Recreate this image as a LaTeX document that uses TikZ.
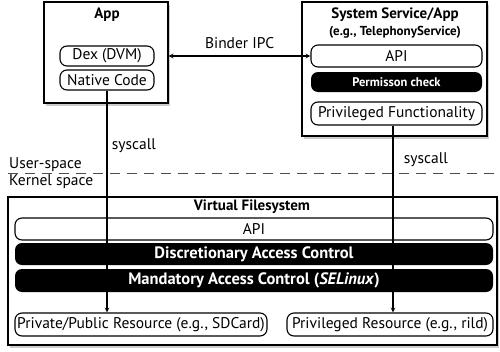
\documentclass[tikz,border=0pt]{standalone}
\usepackage{fontspec}
\setmainfont{PT Sans}
\usetikzlibrary{arrows}
\usetikzlibrary{shadows}
\usetikzlibrary{positioning}

\begin{document}
\begin{tikzpicture}[x=1pt, y=-1pt, >=stealth,
    font=\fontsize{15.5}{17}\selectfont]
    \tikzstyle{frame}=[draw, line width=1.4pt, fill=white, inner sep=0pt,
      drop shadow={opacity=0.4, shadow xshift=2pt, shadow yshift=-3pt}]
    \tikzstyle{pill}=[draw, line width=1.1pt, rounded corners=7pt, fill=white, inner sep=0pt]
    \tikzstyle{bar}=[rounded corners=7pt, fill=black, text=white, font=\fontsize{16.5}{18}\selectfont\bfseries, inner sep=0pt]
    \tikzstyle{title}=[font=\fontsize{15}{17}\selectfont\bfseries, inner sep=0pt]
    \useasboundingbox (0,0) rectangle (500,351);
    % user space
    \node[frame, minimum width=124pt, minimum height=101pt] (app) at (106,52.5) {};
    \node[title] (apptitle) at (107,15) {App};
    \node[pill, minimum width=94pt, minimum height=20pt] (dex) at (107,56) {Dex (DVM)};
    \node[pill, minimum width=94pt, minimum height=20pt] (native) at (107,80) {Native Code};
    \node[frame, minimum width=185pt, minimum height=134pt] (sys) at (394.5,69) {};
    \node[title] (systitle) at (395,15) {System Service/App};
    \node[title, font=\fontsize{13}{15}\selectfont\bfseries] (sysex) at (395,32) {(e.g., TelephonyService)};
    \node[pill, minimum width=171pt, minimum height=22pt] (api) at (396.5,56) {API};
    \node[bar, minimum width=171pt, minimum height=20pt,
      font=\fontsize{12.5}{14}\selectfont\bfseries] (perm) at (396.5,82) {Permisson check};
    \node[pill, minimum width=171pt, minimum height=23pt] (priv) at (396.5,113.5) {Privileged Functionality};
    % kernel
    \node[frame, minimum width=489pt, minimum height=148pt] (kernel) at (252.5,271) {};
    \node[title] (vfs) at (252,207) {Virtual Filesystem};
    \node[pill, minimum width=478pt, minimum height=22pt] (kapi) at (254,229) {API};
    \node[bar, minimum width=478pt, minimum height=22pt] (dac) at (254,254) {Discretionary Access Control};
    \node[bar, minimum width=478pt, minimum height=23pt] (mac) at (254,280.5) {Mandatory Access Control (\textit{SELinux})};
    \node[pill, minimum width=252pt, minimum height=23pt] (pubres) at (141,324.5) {Private/Public Resource (e.g., SDCard)};
    \node[pill, minimum width=206pt, minimum height=23pt] (privres) at (390,324.5) {Privileged Resource (e.g., rild)};
    % boundary
    \coordinate (sepl) at (8,173);
    \coordinate (sepr) at (500,173);
    \draw[dashed, dash pattern=on 10pt off 7pt, line width=1pt, gray!60!black] (sepl) -- (sepr);
    \node[anchor=south west, inner sep=1pt] (user) at (sepl) {User-space};
    \node[anchor=north west, inner sep=1pt] (kern) at (sepl) {Kernel space};
    % connectors
    \draw[<->, line width=1.1pt] (app.east |- api.west) -- node[above=3pt] (binder) {Binder IPC} (api.west);
    \draw[->, line width=1.1pt] (native.south) -- node[pos=0.25, right=1pt] (sc1) {syscall} (native.south |- pubres.north);
    \draw[->, line width=1.1pt] (priv.south -| 393,0) -- node[pos=0.18, right=7pt] (sc2) {syscall} (393,0 |- privres.north);
\end{tikzpicture}
\end{document}
